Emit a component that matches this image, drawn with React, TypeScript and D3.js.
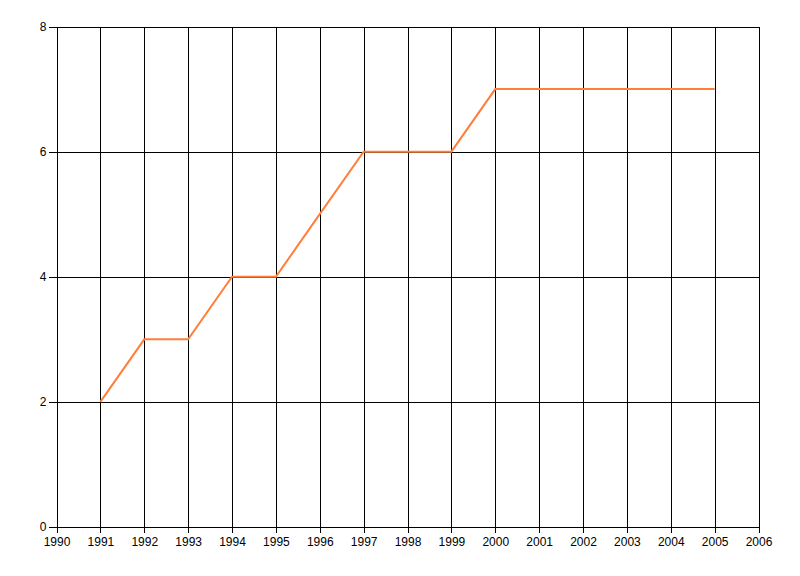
import { useEffect, useRef } from "react";
import * as d3 from "d3";

// data
const years = [1991, 1992, 1993, 1994, 1995, 1996, 1997, 1998, 1999, 2000, 2001, 2002, 2003, 2004, 2005];
const values = [2, 3, 3, 4, 4, 5, 6, 6, 6, 7, 7, 7, 7, 7, 7];
const xTicks = d3.range(1990, 2007);
const yTicks = [0, 2, 4, 6, 8];

export default function App() {
  const ref = useRef<SVGSVGElement>(null);

  useEffect(() => {
    if (!ref.current) return;
    const svg = d3.select(ref.current);
    svg.selectAll("*").remove();

    const W = 800;
    const H = 576;
    const m = { top: 26.5, right: 41.5, bottom: 49, left: 56.5 };
    const w = W - m.left - m.right;
    const h = H - m.top - m.bottom;

    const x = d3.scaleLinear().domain([1990, 2006]).range([0, w]);
    const y = d3.scaleLinear().domain([0, 8]).range([h, 0]);

    const g = svg.append("g").attr("transform", `translate(${m.left},${m.top})`);

    const font = "'Liberation Sans Narrow', 'Liberation Sans', sans-serif";

    // vertical grid
    g.append("g")
      .call(d3.axisBottom(x).tickValues(xTicks).tickSize(h).tickFormat(() => ""))
      .call((a) => {
        a.select(".domain").remove();
        a.selectAll("line").attr("stroke", "#000").attr("shape-rendering", "crispEdges");
      });

    // horizontal grid
    g.append("g")
      .call(d3.axisLeft(y).tickValues(yTicks).tickSize(-w).tickFormat(() => ""))
      .call((a) => {
        a.select(".domain").remove();
        a.selectAll("line").attr("stroke", "#000").attr("shape-rendering", "crispEdges");
      });

    // axes
    g.append("g")
      .attr("transform", `translate(0,${h})`)
      .call(d3.axisBottom(x).tickValues(xTicks).tickSize(6).tickPadding(4).tickFormat(d3.format("d")))
      .call((a) => {
        a.select(".domain").attr("stroke", "#000").attr("shape-rendering", "crispEdges");
        a.selectAll("line").attr("stroke", "#000").attr("shape-rendering", "crispEdges");
        a.selectAll("text").attr("font-size", 12).attr("font-family", font).attr("fill", "#000");
      });

    g.append("g")
      .call(d3.axisLeft(y).tickValues(yTicks).tickSize(8).tickPadding(2).tickFormat(d3.format("d")))
      .call((a) => {
        a.select(".domain").attr("stroke", "#000").attr("shape-rendering", "crispEdges");
        a.selectAll("line").attr("stroke", "#000").attr("shape-rendering", "crispEdges");
        a.selectAll("text").attr("font-size", 12).attr("font-family", font).attr("fill", "#000");
      });

    // series
    const line = d3
      .line<number>()
      .x((_, i) => x(years[i]))
      .y((d) => y(d));

    g.append("path")
      .datum(values)
      .attr("d", line)
      .attr("fill", "none")
      .attr("stroke", "#FF7F3A")
      .attr("stroke-width", 2);
  }, []);

  return (
    <svg
      ref={ref}
      width={800}
      height={576}
      style={{ position: "absolute", left: 0, top: 0, background: "#fff" }}
    />
  );
}
